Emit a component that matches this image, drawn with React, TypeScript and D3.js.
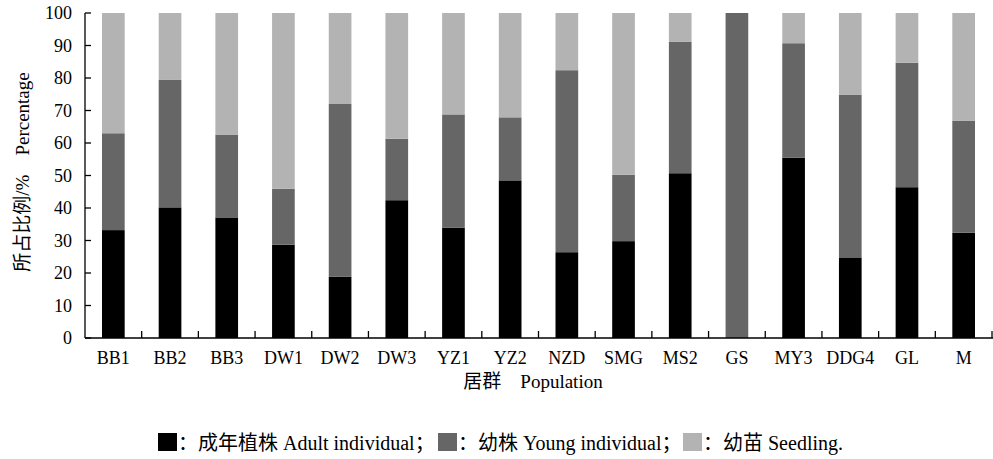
import React, { useEffect, useRef } from "react";
import * as d3 from "d3";

const categories = ["BB1", "BB2", "BB3", "DW1", "DW2", "DW3", "YZ1", "YZ2", "NZD", "SMG", "MS2", "GS", "MY3", "DDG4", "GL", "M"];
const adult = [33.2, 40.2, 37.1, 28.7, 18.9, 42.4, 33.9, 48.5, 26.4, 29.8, 50.7, 0, 55.5, 24.8, 46.4, 32.4];
const young = [29.8, 39.2, 25.5, 17.2, 53.1, 18.9, 34.9, 19.4, 56.0, 20.4, 40.4, 100, 35.2, 50.1, 38.3, 34.5];
const seedling = [37.0, 20.6, 37.4, 54.1, 28.0, 38.7, 31.2, 32.1, 17.6, 49.8, 8.9, 0, 9.3, 25.1, 15.3, 33.1];
const yTicks = [0, 10, 20, 30, 40, 50, 60, 70, 80, 90, 100];
const seriesKeys = ["adult", "young", "seedling"];
const seriesColors = ["#000000", "#666666", "#b3b3b3"];
const legendLabels = ["：成年植株 Adult individual；", "：幼株 Young individual；", "：幼苗 Seedling."];

const W = 993;
const H = 459;
const FONT = "'Liberation Serif', 'Times New Roman', 'Noto Sans CJK SC', serif";

const App = () => {
  const svgRef = useRef<SVGSVGElement>(null);

  useEffect(() => {
    document.body.style.margin = "0";
    const svg = d3.select(svgRef.current);
    svg.selectAll("*").remove();

    const left = 85;
    const right = 992;
    const top = 13;
    const bottom = 338;

    const rows = categories.map((c, i) => ({
      cat: c,
      adult: adult[i],
      young: young[i],
      seedling: seedling[i],
    }));

    const x = d3.scaleBand().domain(categories).range([left, right]).paddingInner(0.6).paddingOuter(0.3);
    const y = d3.scaleLinear().domain([0, 100]).range([bottom, top]);
    const color = d3.scaleOrdinal<string>().domain(seriesKeys).range(seriesColors);

    const stacked = d3.stack<any>().keys(seriesKeys)(rows);

    svg
      .append("g")
      .selectAll("g")
      .data(stacked)
      .enter()
      .append("g")
      .attr("fill", (d) => color(d.key))
      .selectAll("rect")
      .data((d) => d)
      .enter()
      .append("rect")
      .attr("x", (d: any) => x(d.data.cat)!)
      .attr("width", x.bandwidth())
      .attr("y", (d) => y(d[1]))
      .attr("height", (d) => y(d[0]) - y(d[1]));

    // axes
    const axisColor = "#000";
    svg.append("line").attr("x1", left).attr("x2", left).attr("y1", top).attr("y2", bottom)
      .attr("stroke", axisColor).attr("stroke-width", 1.3);
    svg.append("line").attr("x1", left).attr("x2", right + 1).attr("y1", bottom).attr("y2", bottom)
      .attr("stroke", axisColor).attr("stroke-width", 1.3);

    // y ticks (inward)
    const yg = svg.append("g");
    yg.selectAll("line").data(yTicks).enter().append("line")
      .attr("x1", left).attr("x2", left + 6)
      .attr("y1", (d) => y(d)).attr("y2", (d) => y(d))
      .attr("stroke", axisColor).attr("stroke-width", 1.3);
    yg.selectAll("text").data(yTicks).enter().append("text")
      .attr("x", 72).attr("y", (d) => y(d) + 6)
      .attr("text-anchor", "end")
      .attr("font-family", FONT).attr("font-size", 18)
      .text((d) => d);

    // x ticks at band boundaries (upward)
    const step = x.step();
    const bounds = categories.map((_, i) => left + step * (i + 1));
    svg.append("g").selectAll("line").data(bounds).enter().append("line")
      .attr("x1", (d) => d).attr("x2", (d) => d)
      .attr("y1", bottom).attr("y2", bottom - 7)
      .attr("stroke", axisColor).attr("stroke-width", 1.3);

    svg.append("g").selectAll("text").data(categories).enter().append("text")
      .attr("x", (d) => x(d)! + x.bandwidth() / 2)
      .attr("y", 364)
      .attr("text-anchor", "middle")
      .attr("font-family", FONT).attr("font-size", 18)
      .text((d) => d);

    // axis titles
    svg.append("text")
      .attr("x", 533).attr("y", 388)
      .attr("text-anchor", "middle")
      .attr("font-family", FONT).attr("font-size", 19)
      .attr("xml:space", "preserve")
      .style("white-space", "pre")
      .text("居群    Population");

    svg.append("text")
      .attr("transform", "translate(29,172) rotate(-90)")
      .attr("text-anchor", "middle")
      .attr("font-family", FONT).attr("font-size", 19)
      .style("white-space", "pre")
      .text("所占比例/%    Percentage");

    // legend
    const legendX = [158, 438, 683];
    const lg = svg.append("g");
    seriesKeys.forEach((k, i) => {
      lg.append("rect")
        .attr("x", legendX[i]).attr("y", 433)
        .attr("width", 19).attr("height", 18)
        .attr("fill", color(k));
      lg.append("text")
        .attr("x", legendX[i] + 20).attr("y", 450)
        .attr("font-family", FONT).attr("font-size", 20)
        .text(legendLabels[i]);
    });
  }, []);

  return (
    <div style={{ position: "relative" }}>
      <svg ref={svgRef} width={W} height={H} style={{ display: "block", background: "#fff" }}></svg>
    </div>
  );
};

export default App;
